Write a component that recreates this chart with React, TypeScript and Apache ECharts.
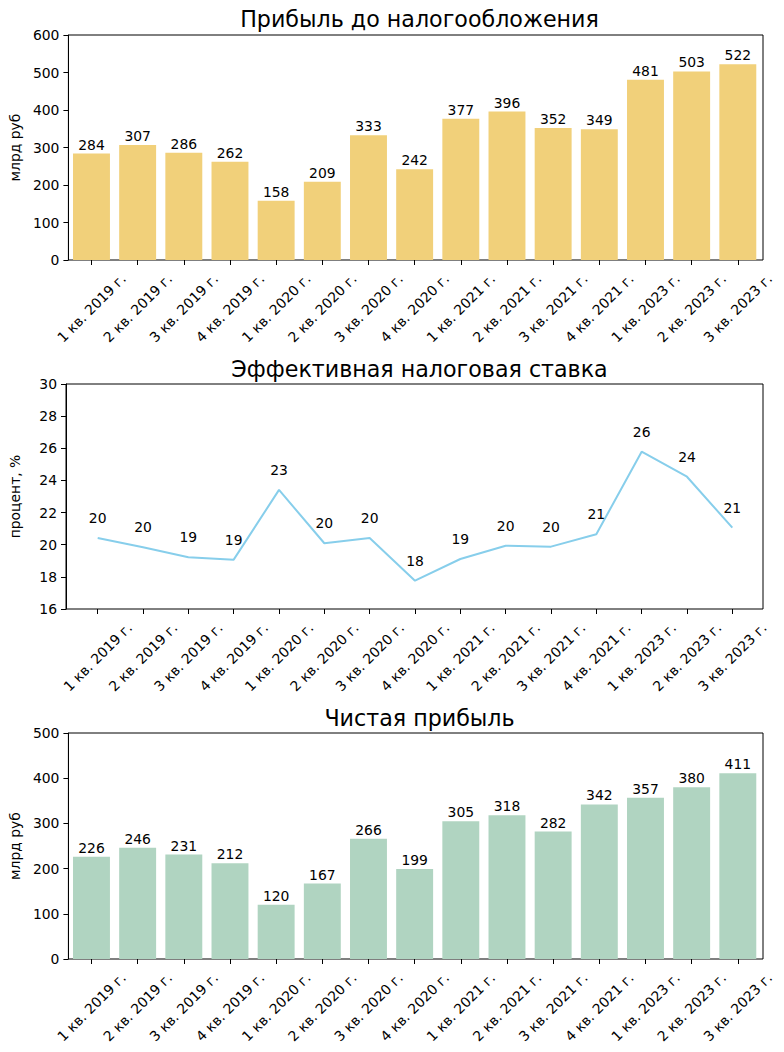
import React, { useEffect, useRef } from "react";
import * as echarts from "echarts";

const categories = [
  "1 кв. 2019 г.", "2 кв. 2019 г.", "3 кв. 2019 г.", "4 кв. 2019 г.",
  "1 кв. 2020 г.", "2 кв. 2020 г.", "3 кв. 2020 г.", "4 кв. 2020 г.",
  "1 кв. 2021 г.", "2 кв. 2021 г.", "3 кв. 2021 г.", "4 кв. 2021 г.",
  "1 кв. 2023 г.", "2 кв. 2023 г.", "3 кв. 2023 г.",
];
const profitBeforeTax = [284, 307, 286, 262, 158, 209, 333, 242, 377, 396, 352, 349, 481, 503, 522];
const taxRate = [20.42, 19.84, 19.22, 19.07, 23.41, 20.09, 20.42, 17.76, 19.11, 19.94, 19.88, 20.65, 25.79, 24.23, 21.06];
const netProfit = [226, 246, 231, 212, 120, 167, 266, 199, 305, 318, 282, 342, 357, 380, 411];

const titles = ["Прибыль до налогообложения", "Эффективная налоговая ставка", "Чистая прибыль"];
const yNames = ["млрд руб", "процент, %", "млрд руб"];
const profitAxis = { min: 0, max: 600, interval: 100 };
const rateAxis = { min: 16, max: 30, interval: 2 };
const netAxis = { min: 0, max: 500, interval: 100 };

export default function App() {
  const ref = useRef<HTMLDivElement>(null);
  useEffect(() => {
    const chart = echarts.init(ref.current!, null, { renderer: "svg" });
    const font = "DejaVu Sans";
    const txt = { color: "#000", fontFamily: font, fontSize: 13.9 };
    const L = 66, R = 21, H = 225;
    const tops = [35, 384, 733];
    const heights = [H, H, H + 1];
    const tickStyle = { show: true, length: 5, lineStyle: { color: "#000", width: 1 } };
    const lineStyle = { show: true, lineStyle: { color: "#000", width: 1 } };
    const xLabel = { ...txt, rotate: 45, align: "center", verticalAlign: "middle", margin: 48, interval: 0 };

    // frame grids 0,1,2 (one per panel) + inner data grids 3,4,5
    const frames = tops.map((t, i) => ({
      left: L, right: R, top: t, height: heights[i], show: true,
      borderColor: "#000", borderWidth: 1, backgroundColor: "transparent",
    }));
    const inner = [
      { left: 68.4, right: 23.1, top: tops[0], height: heights[0] },
      { left: 97.7, right: 784 - 732.3, top: tops[1], height: heights[1] },
      { left: 68.4, right: 23.1, top: tops[2], height: heights[2] },
    ];

    const frameX = (gridIndex: number) => ({ type: "value", gridIndex, show: false, min: 0, max: 1 });
    const frameY = (gridIndex: number, rng: any, name: string) => ({
      type: "value",
      gridIndex,
      ...rng,
      name,
      nameLocation: "middle",
      nameGap: 44,
      nameTextStyle: { ...txt },
      axisLine: lineStyle,
      axisTick: tickStyle,
      axisLabel: { ...txt, margin: 9 },
      splitLine: { show: false },
    });
    const innerX = (gridIndex: number, boundaryGap: boolean) => ({
      type: "category",
      gridIndex,
      data: categories,
      boundaryGap,
      axisLine: { show: false },
      axisTick: { ...tickStyle, alignWithLabel: true },
      axisLabel: xLabel,
    });
    const innerY = (gridIndex: number, rng: any) => ({
      type: "value", gridIndex, show: false, ...rng, splitLine: { show: false },
    });

    const option: any = {
      animation: false,
      backgroundColor: "#fff",
      title: titles.map((t, i) => ({
        text: t,
        left: (L + 784 - R) / 2,
        textAlign: "center",
        top: [3, 352.5, 701.5][i],
        textStyle: { color: "#000", fontFamily: font, fontSize: 22.2, fontWeight: "normal" },
      })),
      grid: [...frames, ...inner],
      xAxis: [frameX(0), frameX(1), frameX(2), innerX(3, true), innerX(4, false), innerX(5, true)],
      yAxis: [
        frameY(0, profitAxis, yNames[0]),
        frameY(1, rateAxis, yNames[1]),
        frameY(2, netAxis, yNames[2]),
        innerY(3, profitAxis),
        innerY(4, rateAxis),
        innerY(5, netAxis),
      ],
      series: [
        {
          type: "bar",
          xAxisIndex: 3,
          yAxisIndex: 3,
          data: profitBeforeTax,
          barWidth: "80%",
          itemStyle: { color: "#F1D07A" },
          label: { show: true, position: "top", distance: 2, ...txt },
        },
        {
          type: "line",
          xAxisIndex: 4,
          yAxisIndex: 4,
          data: taxRate,
          symbol: "circle",
          showSymbol: true,
          symbolSize: 0.01,
          lineStyle: { color: "#87CEEB", width: 2 },
          itemStyle: { color: "#87CEEB" },
          label: {
            show: true,
            position: "top",
            distance: 13,
            ...txt,
            formatter: (p: any) => String(Math.round(p.value)),
          },
        },
        {
          type: "bar",
          xAxisIndex: 5,
          yAxisIndex: 5,
          data: netProfit,
          barWidth: "80%",
          itemStyle: { color: "#B0D4C1" },
          label: { show: true, position: "top", distance: 2, ...txt },
        },
      ],
    };
    chart.setOption(option);
    return () => chart.dispose();
  }, []);
  return <div ref={ref} style={{ position: "absolute", left: 0, top: 0, width: 784, height: 1052 }} />;
}
